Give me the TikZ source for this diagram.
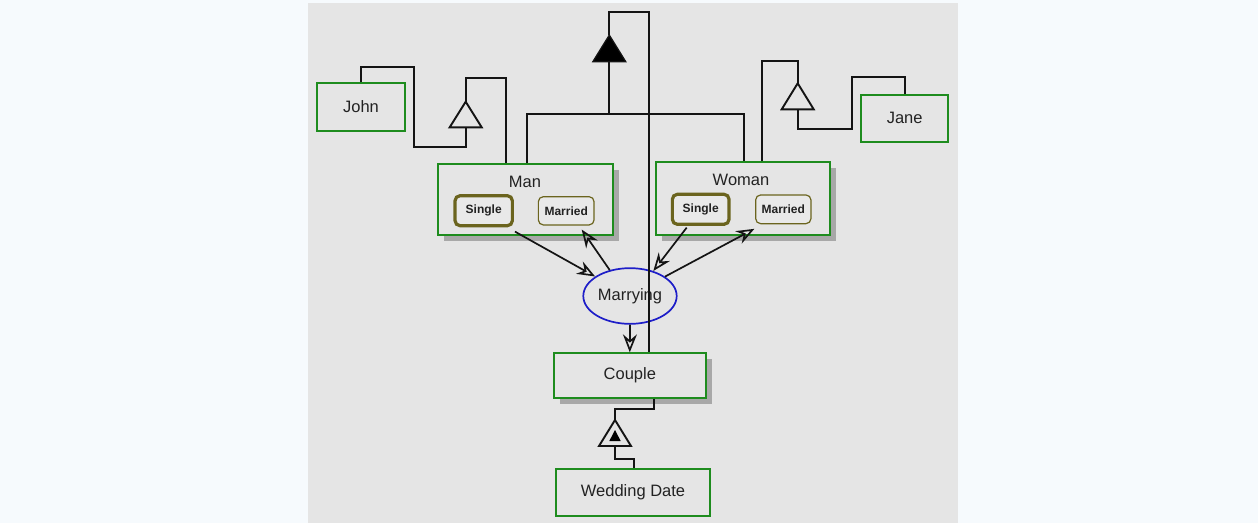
\documentclass[tikz,border=0pt]{standalone}
\usepackage{fontspec}
\setmainfont{Liberation Sans}
\usetikzlibrary{arrows.meta,shapes.geometric,shadows,calc}
\definecolor{bgout}{RGB}{246,250,253}
\definecolor{panel}{RGB}{229,229,229}
\definecolor{boxgreen}{RGB}{30,140,30}
\definecolor{olivec}{RGB}{107,100,30}
\definecolor{ellblue}{RGB}{30,30,200}
\definecolor{shadowgrey}{RGB}{168,168,168}
\definecolor{txt}{RGB}{34,34,34}
\definecolor{linec}{RGB}{20,20,20}
\definecolor{statefill}{RGB}{233,233,233}
\begin{document}
\begin{tikzpicture}[x=1pt,y=-1pt,
  box/.style={draw=boxgreen, line width=1.9pt, fill=panel, inner sep=0pt,
    font=\fontsize{16.5}{18}\selectfont, text=txt},
  shbox/.style={box, drop shadow={shadow xshift=6pt, shadow yshift=-6pt, opacity=1, fill=shadowgrey}},
  titletext/.style={inner sep=0pt, font=\fontsize{16.5}{18}\selectfont, text=txt},
  statebox/.style={draw=olivec, rounded corners=5pt, fill=statefill, inner sep=0pt,
    font=\bfseries\fontsize{12}{14}\selectfont, text=txt},
  thickstate/.style={statebox, line width=3.2pt},
  thinstate/.style={statebox, line width=1.2pt},
  procell/.style={ellipse, draw=ellblue, line width=1.7pt, fill=panel, inner sep=0pt,
    font=\fontsize{16.5}{18}\selectfont, text=txt},
  conn/.style={draw=linec, line width=1.9pt},
  arr/.style={draw=linec, line width=1.7pt, -{Stealth[open, length=18pt, width=14pt, inset=6pt]}},
  tri/.style={draw=linec, line width=1.9pt, fill=panel, line join=miter},
  ftri/.style={draw=linec, line width=1.2pt, fill=black, line join=miter}
]
\fill[bgout] (0,0) rectangle (1258,523);
\useasboundingbox (0,0) rectangle (1258,523);
\fill[panel] (308,3) rectangle (958,523);

% nodes
\node[box, minimum width=88pt, minimum height=47.4pt] (john) at (361,107) {John};
\node[box, minimum width=87.3pt, minimum height=46.7pt] (jane) at (904.7,118.3) {Jane};
\node[shbox, minimum width=174.4pt, minimum height=71.3pt] (man) at (525.5,199.7) {};
\node[titletext] (manT) at (525,182) {Man};
\node[shbox, minimum width=174pt, minimum height=72.7pt] (woman) at (743,198.7) {};
\node[titletext] (womanT) at (741,180) {Woman};
\node[thickstate, minimum width=57.3pt, minimum height=30pt] (manSingle) at (483.7,210.7) {Single};
\node[thinstate, minimum width=55.7pt, minimum height=28.3pt] (manMarried) at (566.2,210.8) {Married};
\node[thickstate, minimum width=56.7pt, minimum height=30pt] (womanSingle) at (700.7,209.3) {Single};
\node[thinstate, minimum width=55.3pt, minimum height=28.7pt] (womanMarried) at (783.3,209.3) {Married};
\node[procell, minimum width=93.4pt, minimum height=55.7pt] (marrying) at (630,296) {Marrying};
\node[shbox, minimum width=151.7pt, minimum height=44.4pt] (couple) at (629.8,375.5) {Couple};
\node[box, minimum width=154pt, minimum height=46.7pt] (wedding) at (633,492.7) {Wedding Date};

% triangle coordinates
\coordinate (t1a) at (465.7,101.7);
\coordinate (t1b) at (465.7,127.3);
\coordinate (t2a) at (797.7,83.3);
\coordinate (t2b) at (797.7,109.3);
\coordinate (t3a) at (609.3,35);
\coordinate (t3b) at (609.3,61.7);
\coordinate (t4a) at (615,420);
\coordinate (t4b) at (615,446);
\coordinate (j3) at (609.3,114.3);

% connectors
\draw[conn] (john.north) |- (414,66.7) |- (465.7,146.7) -- (t1b);
\draw[conn] (t1a) |- (505.7,78.3) -- (man.north -| 505.7,0);
\draw[conn] (woman.north -| 761.7,0) |- (797.7,60.7) -- (t2a);
\draw[conn] (t2b) |- (851.7,129) |- (904.7,77.3) -- (jane.north);
\draw[conn] (man.north -| 526.7,0) |- (j3) -| (woman.north -| 744,0);
\draw[conn] (j3) -- (t3b);
\draw[conn] (t3a) |- (648.7,12.3) -- (couple.north -| 648.7,0);
\draw[conn] (couple.south -| 654,0) |- (615,409) -- (t4a);
\draw[conn] (t4b) |- (634,459) -- (wedding.north -| 634,0);

% triangles
\draw[tri] (t1a) -- ($(t1b)+(-16,0)$) -- ($(t1b)+(16,0)$) -- cycle;
\draw[tri] (t2a) -- ($(t2b)+(-16,0)$) -- ($(t2b)+(16,0)$) -- cycle;
\draw[ftri] (t3a) -- ($(t3b)+(-16.5,0)$) -- ($(t3b)+(16.5,0)$) -- cycle;
\draw[tri] (t4a) -- ($(t4b)+(-16,0)$) -- ($(t4b)+(16,0)$) -- cycle;
\fill[black] (615,430) -- (609.3,441) -- (620.7,441) -- cycle;

% arrows
\draw[arr] ($(manSingle.south east)+(1,4.3)$) -- (marrying);
\draw[arr] (marrying.128) -- ($(manMarried.south)+(15.5,4)$);
\draw[arr] ($(womanSingle.south)+(-14,1.7)$) -- (marrying.47);
\draw[arr] (marrying.29) -- ($(womanMarried.south west)+(-0.7,4.6)$);
\draw[arr] (marrying.south) -- (couple.north);
\end{tikzpicture}
\end{document}
